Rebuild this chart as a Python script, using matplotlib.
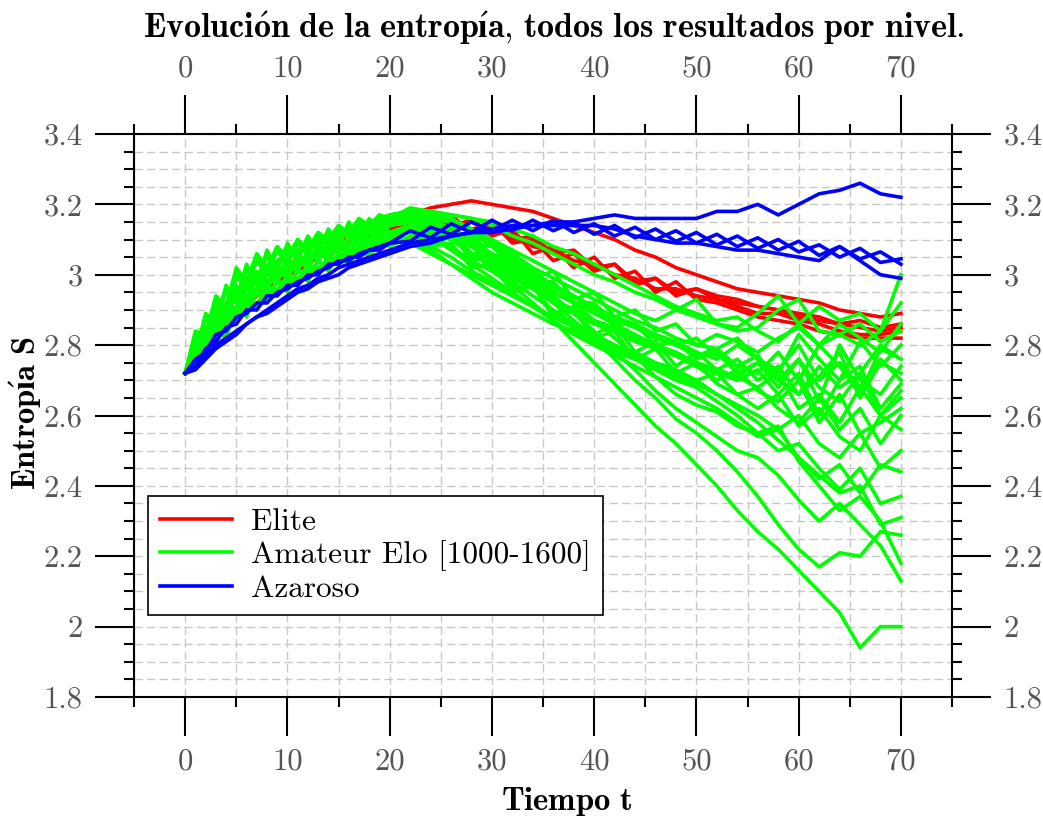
import matplotlib
matplotlib.use("Agg")
import matplotlib.pyplot as plt
from matplotlib.ticker import MultipleLocator, FuncFormatter
from matplotlib.lines import Line2D

plt.rcParams['font.family'] = 'cmr10'
plt.rcParams['mathtext.fontset'] = 'cm'

# time axis: every move up to 20, every second move afterwards
tiempo = list(range(0, 21)) + list(range(22, 71, 2))

# Elite games
elite_1 = [2.72, 2.76, 2.80, 2.84, 2.87, 2.90, 2.93, 2.95, 2.97, 2.99, 3.01, 3.03, 3.05, 3.06, 3.08, 3.09, 3.11, 3.12, 3.13, 3.14, 3.15,
           3.17, 3.19, 3.20, 3.21, 3.20, 3.19, 3.18, 3.16, 3.14, 3.12, 3.10, 3.07, 3.05, 3.02, 3.00, 2.98, 2.96, 2.95, 2.94, 2.93, 2.92, 2.90, 2.89, 2.88, 2.89]
elite_2 = [2.72, 2.77, 2.81, 2.85, 2.88, 2.91, 2.94, 2.96, 2.98, 3.00, 3.02, 3.03, 3.05, 3.06, 3.08, 3.09, 3.10, 3.11, 3.12, 3.13, 3.14,
           3.17, 3.13, 3.17, 3.12, 3.15, 3.09, 3.10, 3.04, 3.06, 3.01, 3.03, 2.97, 2.99, 2.94, 2.96, 2.93, 2.92, 2.91, 2.90, 2.89, 2.88, 2.86, 2.85, 2.84, 2.85]
elite_3 = [2.72, 2.76, 2.80, 2.83, 2.86, 2.89, 2.92, 2.94, 2.96, 2.98, 3.00, 3.02, 3.04, 3.05, 3.07, 3.08, 3.09, 3.10, 3.11, 3.12, 3.13,
           3.13, 3.17, 3.13, 3.16, 3.11, 3.13, 3.06, 3.08, 3.02, 3.05, 2.99, 3.01, 2.95, 2.98, 2.93, 2.92, 2.90, 2.88, 2.87, 2.86, 2.84, 2.83, 2.82, 2.82, 2.82]
elite_4 = [2.72, 2.76, 2.80, 2.84, 2.87, 2.90, 2.93, 2.95, 2.97, 2.99, 3.01, 3.03, 3.04, 3.06, 3.07, 3.08, 3.10, 3.11, 3.12, 3.13, 3.14,
           3.16, 3.14, 3.16, 3.13, 3.14, 3.10, 3.11, 3.06, 3.07, 3.02, 3.03, 2.98, 2.99, 2.95, 2.96, 2.94, 2.93, 2.91, 2.90, 2.88, 2.87, 2.86, 2.87, 2.85, 2.86]
elite_5 = [2.72, 2.75, 2.79, 2.83, 2.86, 2.89, 2.91, 2.94, 2.96, 2.98, 3.00, 3.01, 3.03, 3.05, 3.06, 3.07, 3.09, 3.10, 3.11, 3.12, 3.13,
           3.14, 3.16, 3.14, 3.15, 3.12, 3.12, 3.08, 3.07, 3.04, 3.03, 3.00, 2.99, 2.96, 2.96, 2.94, 2.93, 2.91, 2.89, 2.89, 2.87, 2.86, 2.84, 2.83, 2.83, 2.84]

# Amateur games, Elo 1000-1600
amateur_01 = [2.72, 2.80, 2.80, 2.89, 2.87, 2.95, 2.93, 3.00, 2.97, 3.03, 3.00, 3.06, 3.03, 3.09, 3.06, 3.11, 3.08, 3.13, 3.10, 3.14, 3.12,
              3.13, 3.11, 3.08, 3.04, 3.01, 2.97, 2.92, 2.87, 2.81, 2.75, 2.69, 2.63, 2.57, 2.52, 2.46, 2.40, 2.33, 2.27, 2.22, 2.16, 2.10, 2.04, 1.94, 2.00, 2.00]
amateur_02 = [2.72, 2.75, 2.81, 2.80, 2.87, 2.86, 2.92, 2.90, 2.96, 2.94, 2.99, 2.97, 3.02, 3.00, 3.05, 3.03, 3.08, 3.06, 3.10, 3.08, 3.12,
              3.14, 3.08, 3.11, 3.05, 3.05, 3.01, 2.97, 2.92, 2.87, 2.82, 2.76, 2.70, 2.65, 2.59, 2.55, 2.50, 2.44, 2.37, 2.29, 2.22, 2.17, 2.21, 2.20, 2.27, 2.26]
amateur_03 = [2.72, 2.76, 2.84, 2.83, 2.91, 2.89, 2.97, 2.94, 3.01, 2.98, 3.04, 3.01, 3.07, 3.04, 3.09, 3.06, 3.11, 3.08, 3.13, 3.10, 3.15,
              3.16, 3.10, 3.13, 3.06, 3.06, 3.02, 2.98, 2.94, 2.89, 2.84, 2.78, 2.73, 2.67, 2.62, 2.58, 2.54, 2.50, 2.48, 2.43, 2.36, 2.30, 2.35, 2.29, 2.23, 2.13]
amateur_04 = [2.72, 2.83, 2.82, 2.93, 2.90, 3.00, 2.96, 3.04, 3.00, 3.07, 3.03, 3.09, 3.06, 3.11, 3.08, 3.13, 3.10, 3.14, 3.12, 3.16, 3.14,
              3.17, 3.16, 3.15, 3.12, 3.09, 3.05, 3.01, 2.97, 2.92, 2.87, 2.82, 2.77, 2.71, 2.66, 2.63, 2.61, 2.57, 2.55, 2.57, 2.47, 2.40, 2.33, 2.37, 2.30, 2.18]
amateur_05 = [2.72, 2.78, 2.88, 2.87, 2.96, 2.93, 3.02, 2.98, 3.06, 3.02, 3.08, 3.05, 3.10, 3.07, 3.12, 3.09, 3.14, 3.11, 3.15, 3.13, 3.17,
              3.18, 3.18, 3.17, 3.16, 3.14, 3.11, 3.09, 3.06, 3.03, 3.00, 2.98, 2.95, 2.93, 2.90, 2.88, 2.86, 2.84, 2.85, 2.90, 2.93, 2.84, 2.83, 2.80, 2.84, 3.00]
amateur_06 = [2.72, 2.78, 2.83, 2.87, 2.91, 2.94, 2.97, 2.99, 3.01, 3.03, 3.05, 3.06, 3.08, 3.09, 3.10, 3.11, 3.12, 3.13, 3.14, 3.15, 3.16,
              3.17, 3.16, 3.15, 3.13, 3.10, 3.07, 3.04, 3.01, 2.98, 2.95, 2.92, 2.89, 2.87, 2.90, 2.93, 2.86, 2.85, 2.89, 2.94, 2.86, 2.91, 2.87, 2.89, 2.84, 2.92]
amateur_07 = [2.72, 2.82, 2.81, 2.92, 2.89, 3.01, 2.97, 3.05, 3.01, 3.08, 3.04, 3.10, 3.07, 3.12, 3.09, 3.14, 3.11, 3.15, 3.13, 3.17, 3.16,
              3.19, 3.18, 3.16, 3.13, 3.10, 3.06, 3.02, 2.99, 2.96, 2.93, 2.90, 2.87, 2.85, 2.82, 2.80, 2.83, 2.81, 2.78, 2.82, 2.85, 2.80, 2.86, 2.82, 2.78, 2.86]
amateur_08 = [2.72, 2.76, 2.85, 2.83, 2.92, 2.90, 2.98, 2.94, 3.02, 2.98, 3.05, 3.01, 3.07, 3.04, 3.09, 3.06, 3.11, 3.08, 3.12, 3.10, 3.14,
              3.16, 3.17, 3.15, 3.12, 3.08, 3.04, 3.00, 2.97, 2.94, 2.91, 2.88, 2.86, 2.83, 2.81, 2.78, 2.76, 2.80, 2.76, 2.72, 2.83, 2.76, 2.70, 2.81, 2.74, 2.80]
amateur_09 = [2.72, 2.79, 2.87, 2.88, 2.95, 2.94, 3.01, 2.99, 3.05, 3.03, 3.07, 3.06, 3.09, 3.08, 3.11, 3.10, 3.13, 3.12, 3.14, 3.14, 3.16,
              3.15, 3.12, 3.14, 3.09, 3.08, 3.03, 3.01, 2.96, 2.94, 2.90, 2.88, 2.85, 2.82, 2.80, 2.77, 2.79, 2.74, 2.72, 2.78, 2.70, 2.80, 2.74, 2.66, 2.79, 2.76]
amateur_10 = [2.72, 2.80, 2.79, 2.89, 2.86, 2.96, 2.92, 3.00, 2.96, 3.03, 2.99, 3.05, 3.02, 3.07, 3.04, 3.09, 3.06, 3.11, 3.08, 3.13, 3.11,
              3.13, 3.15, 3.11, 3.11, 3.05, 3.05, 2.98, 2.98, 2.92, 2.92, 2.86, 2.86, 2.80, 2.81, 2.76, 2.78, 2.72, 2.75, 2.68, 2.76, 2.64, 2.80, 2.70, 2.66, 2.74]
amateur_11 = [2.72, 2.77, 2.81, 2.85, 2.88, 2.91, 2.94, 2.96, 2.98, 3.00, 3.02, 3.03, 3.05, 3.06, 3.07, 3.08, 3.10, 3.11, 3.12, 3.13, 3.14,
              3.16, 3.14, 3.12, 3.09, 3.06, 3.03, 2.99, 2.95, 2.92, 2.89, 2.86, 2.83, 2.80, 2.78, 2.75, 2.73, 2.76, 2.70, 2.74, 2.66, 2.71, 2.78, 2.65, 2.75, 2.72]
amateur_12 = [2.72, 2.77, 2.77, 2.84, 2.83, 2.90, 2.89, 2.95, 2.93, 2.98, 2.96, 3.01, 2.99, 3.04, 3.02, 3.06, 3.04, 3.08, 3.06, 3.10, 3.09,
              3.14, 3.12, 3.10, 3.06, 3.03, 2.99, 2.96, 2.92, 2.89, 2.86, 2.84, 2.81, 2.79, 2.77, 2.74, 2.72, 2.70, 2.73, 2.66, 2.72, 2.60, 2.70, 2.74, 2.62, 2.69]
amateur_13 = [2.72, 2.74, 2.82, 2.81, 2.88, 2.86, 2.93, 2.91, 2.97, 2.95, 3.00, 2.98, 3.03, 3.01, 3.05, 3.04, 3.08, 3.06, 3.10, 3.09, 3.12,
              3.12, 3.08, 3.09, 3.02, 3.03, 2.95, 2.97, 2.89, 2.91, 2.83, 2.86, 2.78, 2.81, 2.74, 2.78, 2.73, 2.71, 2.68, 2.72, 2.62, 2.66, 2.58, 2.68, 2.60, 2.67]
amateur_14 = [2.72, 2.84, 2.83, 2.94, 2.91, 3.02, 2.98, 3.06, 3.02, 3.08, 3.05, 3.10, 3.07, 3.12, 3.10, 3.14, 3.12, 3.16, 3.14, 3.17, 3.15,
              3.18, 3.16, 3.13, 3.10, 3.06, 3.02, 2.98, 2.95, 2.92, 2.90, 2.87, 2.85, 2.83, 2.80, 2.82, 2.77, 2.74, 2.77, 2.70, 2.76, 2.68, 2.64, 2.72, 2.60, 2.65]
amateur_15 = [2.72, 2.78, 2.76, 2.85, 2.82, 2.91, 2.88, 2.96, 2.92, 2.99, 2.95, 3.02, 2.98, 3.04, 3.01, 3.06, 3.03, 3.08, 3.05, 3.10, 3.08,
              3.11, 3.08, 3.05, 3.01, 2.98, 2.94, 2.91, 2.88, 2.86, 2.83, 2.80, 2.78, 2.75, 2.73, 2.70, 2.72, 2.66, 2.68, 2.62, 2.58, 2.65, 2.56, 2.62, 2.52, 2.60]
amateur_16 = [2.72, 2.77, 2.83, 2.84, 2.91, 2.90, 2.96, 2.95, 3.00, 2.99, 3.03, 3.02, 3.06, 3.05, 3.08, 3.07, 3.10, 3.09, 3.12, 3.11, 3.14,
              3.15, 3.11, 3.12, 3.04, 3.05, 2.96, 2.97, 2.88, 2.90, 2.82, 2.84, 2.76, 2.79, 2.72, 2.75, 2.69, 2.66, 2.62, 2.66, 2.57, 2.62, 2.54, 2.50, 2.60, 2.56]
amateur_17 = [2.72, 2.75, 2.81, 2.81, 2.87, 2.87, 2.92, 2.91, 2.96, 2.95, 2.99, 2.98, 3.02, 3.01, 3.04, 3.04, 3.07, 3.06, 3.09, 3.09, 3.11,
              3.10, 3.07, 3.03, 2.99, 2.95, 2.92, 2.89, 2.86, 2.84, 2.81, 2.78, 2.76, 2.74, 2.71, 2.69, 2.66, 2.63, 2.60, 2.56, 2.60, 2.52, 2.48, 2.55, 2.45, 2.50]
amateur_18 = [2.72, 2.81, 2.78, 2.90, 2.85, 2.97, 2.91, 3.01, 2.95, 3.04, 2.98, 3.06, 3.01, 3.08, 3.03, 3.10, 3.05, 3.12, 3.07, 3.14, 3.10,
              3.13, 3.11, 3.07, 3.03, 2.99, 2.95, 2.91, 2.87, 2.83, 2.80, 2.77, 2.74, 2.71, 2.68, 2.65, 2.62, 2.58, 2.54, 2.56, 2.48, 2.42, 2.46, 2.38, 2.46, 2.44]
amateur_19 = [2.72, 2.76, 2.80, 2.84, 2.87, 2.90, 2.93, 2.95, 2.97, 2.99, 3.01, 3.02, 3.04, 3.05, 3.06, 3.07, 3.08, 3.09, 3.10, 3.11, 3.11,
              3.09, 3.06, 3.03, 3.00, 2.97, 2.94, 2.91, 2.88, 2.85, 2.82, 2.79, 2.76, 2.73, 2.70, 2.68, 2.64, 2.60, 2.55, 2.50, 2.52, 2.45, 2.39, 2.45, 2.35, 2.37]
amateur_20 = [2.72, 2.77, 2.89, 2.86, 2.97, 2.92, 3.03, 2.97, 3.07, 3.01, 3.09, 3.04, 3.11, 3.06, 3.13, 3.08, 3.15, 3.10, 3.16, 3.12, 3.17,
              3.16, 3.13, 3.10, 3.06, 3.02, 2.98, 2.94, 2.90, 2.86, 2.83, 2.80, 2.77, 2.74, 2.72, 2.70, 2.66, 2.62, 2.58, 2.53, 2.48, 2.43, 2.38, 2.40, 2.29, 2.31]
amateur_21 = [2.72, 2.79, 2.80, 2.88, 2.87, 2.95, 2.93, 2.99, 2.97, 3.02, 3.00, 3.04, 3.03, 3.06, 3.05, 3.08, 3.07, 3.10, 3.09, 3.12, 3.12,
              3.14, 3.16, 3.10, 3.12, 3.05, 3.07, 2.99, 3.01, 2.93, 2.95, 2.88, 2.90, 2.84, 2.86, 2.80, 2.79, 2.82, 2.76, 2.73, 2.80, 2.70, 2.75, 2.68, 2.76, 2.70]
amateur_22 = [2.72, 2.76, 2.80, 2.82, 2.86, 2.88, 2.91, 2.92, 2.95, 2.96, 2.98, 2.99, 3.01, 3.02, 3.04, 3.05, 3.06, 3.07, 3.09, 3.10, 3.11,
              3.12, 3.14, 3.11, 3.08, 3.04, 3.00, 2.96, 2.93, 2.90, 2.87, 2.84, 2.82, 2.79, 2.77, 2.75, 2.73, 2.71, 2.75, 2.70, 2.66, 2.74, 2.68, 2.72, 2.80, 2.76]
amateur_23 = [2.72, 2.81, 2.83, 2.91, 2.91, 2.99, 2.97, 3.04, 3.01, 3.07, 3.04, 3.09, 3.07, 3.11, 3.09, 3.13, 3.11, 3.15, 3.13, 3.16, 3.15,
              3.17, 3.14, 3.12, 3.08, 3.05, 3.01, 2.97, 2.93, 2.90, 2.87, 2.85, 2.82, 2.79, 2.77, 2.74, 2.70, 2.73, 2.67, 2.64, 2.70, 2.58, 2.66, 2.55, 2.58, 2.62]
amateur_24 = [2.72, 2.79, 2.84, 2.88, 2.92, 2.95, 2.98, 3.00, 3.02, 3.04, 3.06, 3.07, 3.09, 3.10, 3.11, 3.12, 3.13, 3.14, 3.15, 3.16, 3.17,
              3.18, 3.18, 3.17, 3.16, 3.15, 3.13, 3.11, 3.08, 3.06, 3.03, 3.00, 2.97, 2.94, 2.91, 2.89, 2.87, 2.88, 2.84, 2.81, 2.86, 2.80, 2.83, 2.86, 2.81, 2.84]

# Random games
azar_1 = [2.72, 2.74, 2.77, 2.80, 2.82, 2.84, 2.86, 2.88, 2.90, 2.92, 2.94, 2.96, 2.97, 2.99, 3.00, 3.02, 3.03, 3.04, 3.05, 3.06, 3.07,
          3.09, 3.10, 3.11, 3.12, 3.13, 3.14, 3.14, 3.15, 3.15, 3.16, 3.17, 3.16, 3.16, 3.16, 3.16, 3.18, 3.18, 3.20, 3.17, 3.20, 3.23, 3.24, 3.26, 3.23, 3.22]
azar_2 = [2.72, 2.76, 2.78, 2.83, 2.84, 2.88, 2.89, 2.92, 2.92, 2.95, 2.96, 2.98, 2.99, 3.01, 3.02, 3.04, 3.04, 3.06, 3.07, 3.08, 3.09,
          3.125, 3.105, 3.145, 3.12, 3.155, 3.125, 3.155, 3.125, 3.15, 3.115, 3.14, 3.105, 3.13, 3.095, 3.12, 3.085, 3.11, 3.075, 3.10, 3.065, 3.085, 3.05, 3.075, 3.035, 3.045]
azar_3 = [2.72, 2.74, 2.79, 2.81, 2.85, 2.86, 2.90, 2.90, 2.94, 2.94, 2.97, 2.97, 3.00, 3.00, 3.03, 3.03, 3.05, 3.05, 3.07, 3.07, 3.09,
          3.095, 3.135, 3.115, 3.15, 3.125, 3.155, 3.125, 3.155, 3.12, 3.145, 3.11, 3.135, 3.10, 3.125, 3.09, 3.115, 3.08, 3.105, 3.07, 3.095, 3.055, 3.08, 3.045, 3.065, 3.03]
azar_4 = [2.72, 2.73, 2.76, 2.79, 2.81, 2.83, 2.86, 2.88, 2.89, 2.91, 2.93, 2.95, 2.96, 2.98, 2.99, 3.00, 3.02, 3.03, 3.04, 3.05, 3.06,
          3.08, 3.09, 3.11, 3.12, 3.12, 3.13, 3.14, 3.14, 3.14, 3.14, 3.13, 3.11, 3.10, 3.09, 3.09, 3.08, 3.07, 3.07, 3.06, 3.05, 3.04, 3.08, 3.04, 3.00, 2.99]

elite = [elite_1, elite_2, elite_3, elite_4, elite_5]
amateur = [amateur_01, amateur_02, amateur_03, amateur_04, amateur_05, amateur_06,
           amateur_07, amateur_08, amateur_09, amateur_10, amateur_11, amateur_12,
           amateur_13, amateur_14, amateur_15, amateur_16, amateur_17, amateur_18,
           amateur_19, amateur_20, amateur_21, amateur_22, amateur_23, amateur_24]
azar = [azar_1, azar_2, azar_3, azar_4]

niveles = ['Elite', 'Amateur Elo [1000-1600]', 'Azaroso']
colores = ['#ff0000', '#00ff00', '#0000ff']

fig = plt.figure(figsize=(10.43, 8.16), dpi=100)
ax = fig.add_axes([0.1285, 0.1458, 0.7843, 0.69])

lw = 2.6
for serie in elite:
    ax.plot(tiempo, serie, color=colores[0], lw=lw)
for serie in amateur:
    ax.plot(tiempo, serie, color=colores[1], lw=lw)
for serie in azar:
    ax.plot(tiempo, serie, color=colores[2], lw=lw)

ax.set_xlim(-5, 75)
ax.set_ylim(1.8, 3.4)
ax.xaxis.set_major_locator(MultipleLocator(10))
ax.xaxis.set_minor_locator(MultipleLocator(5))
ax.yaxis.set_major_locator(MultipleLocator(0.2))
ax.yaxis.set_minor_locator(MultipleLocator(0.05))
fmt = FuncFormatter(lambda v, p: f'{v:g}')
ax.xaxis.set_major_formatter(fmt)
ax.yaxis.set_major_formatter(fmt)

ax.grid(True, which='both', color='#c8c8c8', linestyle=(0, (6, 3)), linewidth=1.0)
ax.tick_params(which='both', direction='out', top=True, right=True, width=1.5, color='black')
ax.tick_params(which='major', length=28, labeltop=True, labelright=True,
               labelsize=22, labelcolor='#555555', pad=9)
ax.tick_params(which='minor', length=7)
for side in ['left', 'right', 'top', 'bottom']:
    ax.spines[side].set_linewidth(1.5)

handles = [Line2D([], [], color=c, lw=lw) for c in colores]
leg = ax.legend(handles, niveles, loc='lower left', bbox_to_anchor=(0.017, 0.1456),
                borderaxespad=0, fontsize=22.5, fancybox=False, edgecolor='black',
                framealpha=1, handlelength=2.3, handletextpad=0.6,
                labelspacing=0.12, borderpad=0.4)
leg.get_frame().set_linewidth(1.2)

fig.text(0.531, 0.966,
         r'$\mathbf{Evoluci\acute{o}n\ de\ la\ entrop\acute{ı}a{,}\ todos\ los\ resultados\ por\ nivel.}$',
         ha='center', va='center', fontsize=24.5)
fig.text(0.025, 0.493, r'$\mathbf{Entrop\acute{ı}a\ S}$', rotation=90,
         ha='center', va='center', fontsize=23.5)
fig.text(0.543, 0.018, r'$\mathbf{Tiempo\ t}$', ha='center', va='center', fontsize=23.5)

fig.savefig('out.png', dpi=100)
